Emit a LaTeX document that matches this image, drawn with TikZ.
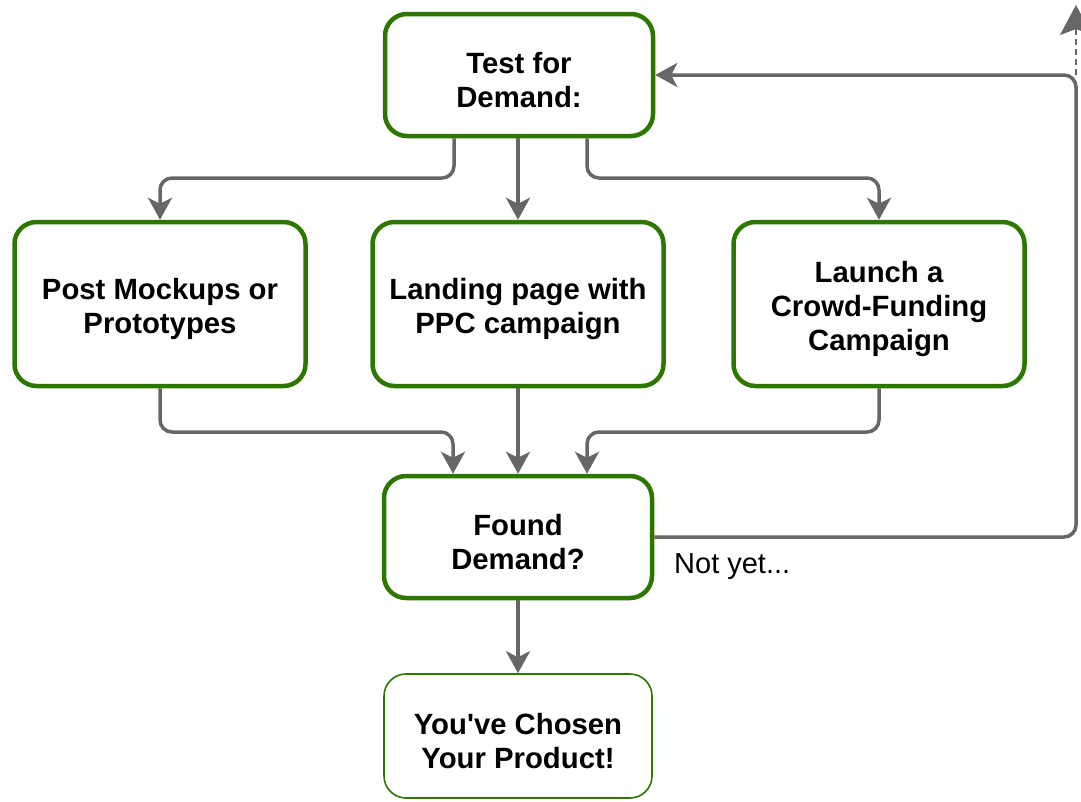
\documentclass[tikz,border=0pt]{standalone}
\usepackage{fontspec}
\setmainfont{Liberation Sans}[Ligatures=TeXOff]
\usetikzlibrary{arrows.meta}
\definecolor{boxgreen}{HTML}{2D7600}
\definecolor{linegray}{HTML}{666666}
% extra room above the first line so the text block sits a little low in its box
\newcommand\toppad{\rule{0pt}{31pt}}
\begin{document}
\begin{tikzpicture}[x=1pt,y=-1pt,
  stepbox/.style={draw=boxgreen, line width=4.5pt, rounded corners=22pt, fill=white,
    inner sep=0pt, align=center, font=\fontsize{29.3}{34}\selectfont\bfseries},
  endbox/.style={stepbox, line width=1.6pt},
  conn/.style={draw=linegray, line width=3.5pt, rounded corners=12pt,
    -{Stealth[length=22pt,width=24pt,inset=6pt]}},
  note/.style={anchor=west, inner sep=0pt, font=\fontsize{29}{34}\selectfont}]
\useasboundingbox (0,0) rectangle (1081,801);
\clip (0,0) rectangle (1081,801);

% boxes
\node[stepbox, minimum width=268pt, minimum height=122pt] (test) at (519,75) {\toppad Test for\\Demand:};
\node[stepbox, minimum width=291pt, minimum height=164pt] (post) at (160,304) {\toppad Post Mockups or\\Prototypes};
\node[stepbox, minimum width=291pt, minimum height=164pt] (land) at (518,304) {\toppad Landing page with\\PPC campaign};
\node[stepbox, minimum width=291pt, minimum height=164pt] (crowd) at (879,304) {\toppad Launch a\\Crowd-Funding\\Campaign};
\node[stepbox, minimum width=268pt, minimum height=122pt] (found) at (518,537) {\toppad Found\\Demand?};
\node[endbox, minimum width=268pt, minimum height=124pt] (chosen) at (518,736) {\toppad You've Chosen\\Your Product!};

% fan-out from the test step
\draw[conn] ([xshift=-65pt]test.south) -- ([xshift=-65pt]test.south |- 0,178) -| (post.north);
\draw[conn] (test.south -| land.north) -- (land.north);
\draw[conn] ([xshift=68pt]test.south) -- ([xshift=68pt]test.south |- 0,178) -| (crowd.north);

% fan-in to the decision
\draw[conn] (post.south) -- (post.south |- 0,432) -| ([xshift=-65pt]found.north);
\draw[conn] (land.south) -- (land.south |- found.north);
\draw[conn] (crowd.south) -- (crowd.south |- 0,432) -| ([xshift=69pt]found.north);

% outcome
\draw[conn] (found.south) -- (chosen.north);

% loop back when no demand is found
\coordinate (loopcorner) at (1076,75);
\coordinate (looptop) at (1076,5);
\draw[conn] (found.east) -| (loopcorner) -- (test.east);
\draw[draw=linegray, line width=2pt, dash pattern=on 6pt off 4pt,
  -{Stealth[length=30pt,width=32pt,inset=6pt]}] (loopcorner) -- (looptop);
\node[note] (notyet) at (674,567) {Not yet...};
\end{tikzpicture}
\end{document}
